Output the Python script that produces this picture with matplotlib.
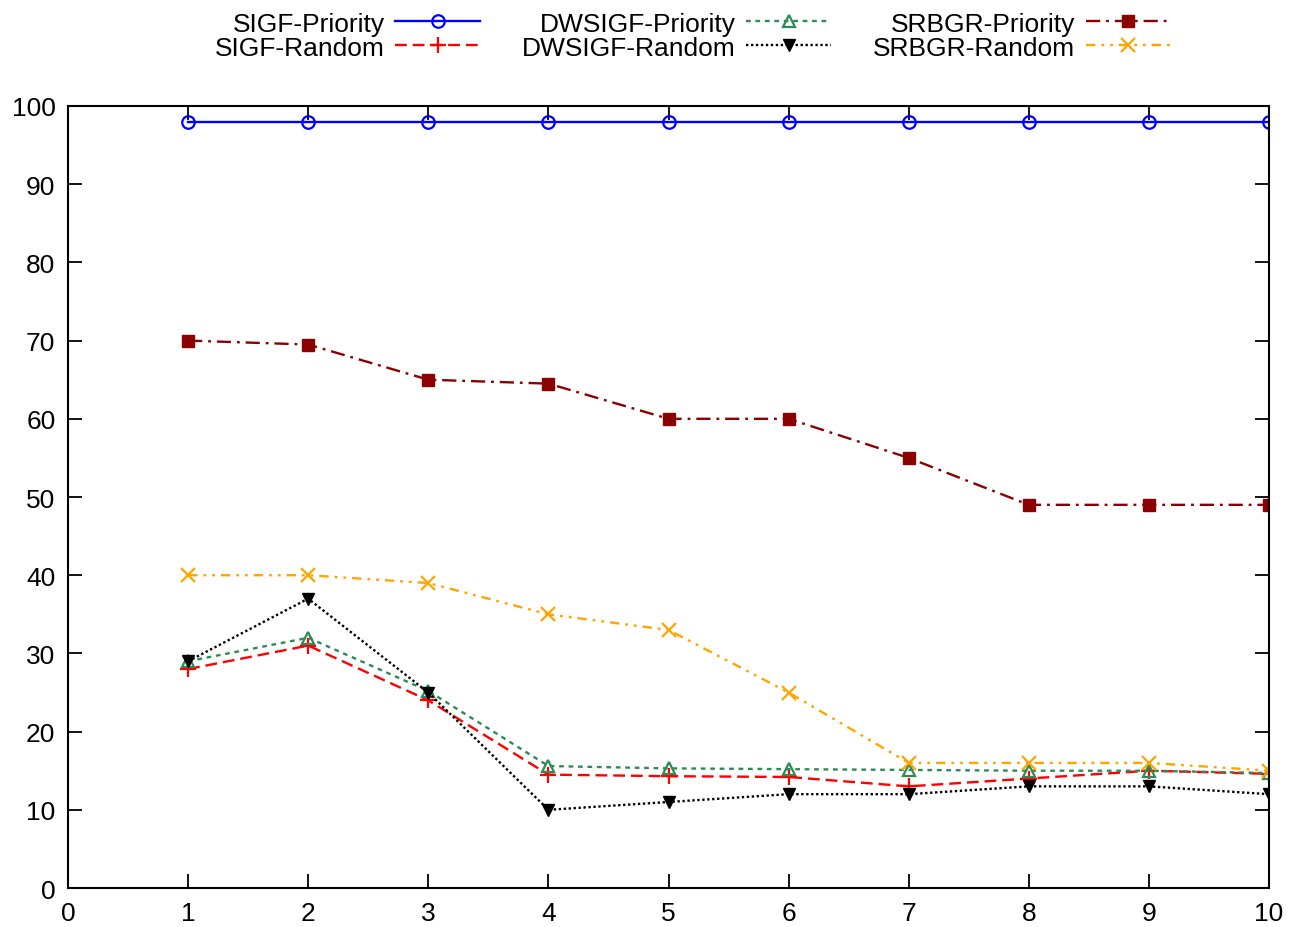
import matplotlib.pyplot as plt

plt.rcParams['font.family'] = ['Liberation Sans', 'DejaVu Sans']

x = [1, 2, 3, 4, 5, 6, 7, 8, 9, 10]
sigf_priority = [98, 98, 98, 98, 98, 98, 98, 98, 98, 98]
sigf_random = [28, 31, 24, 14.5, 14.3, 14.2, 13, 14, 15, 14.6]
dwsigf_priority = [29, 32, 25.2, 15.6, 15.3, 15.2, 15.1, 15, 15, 14.7]
dwsigf_random = [29, 37, 25, 10, 11, 12, 12, 13, 13, 12]
srbgr_priority = [70, 69.5, 65, 64.5, 60, 60, 55, 49, 49, 49]
srbgr_random = [40, 40, 39, 35, 33, 25, 16, 16, 16, 15]

fig = plt.figure(figsize=(13.02, 9.28), dpi=100)
ax = fig.add_axes([0.0522, 0.042, 0.9225, 0.8427])

lw = 1.7
ax.plot(x, sigf_priority, color='#0000ff', ls='-', lw=lw, marker='o', ms=9,
        mfc='none', mew=1.6, label='SIGF-Priority')
ax.plot(x, sigf_random, color='#ff0000', ls=(0, (5, 2.5)), lw=lw, marker='+', ms=11,
        mew=1.6, label='SIGF-Random')
ax.plot(x, dwsigf_priority, color='#2e8b57', ls=(0, (2, 2)), lw=lw, marker='^', ms=9,
        mfc='none', mew=1.6, label='DWSIGF-Priority')
ax.plot(x, dwsigf_random, color='black', ls=(0, (1, 1.1)), lw=lw, marker='v', ms=8,
        label='DWSIGF-Random')
ax.plot(x, srbgr_priority, color='#8b0000', ls=(0, (6, 2.5, 1.2, 2.5)), lw=lw, marker='s', ms=8,
        label='SRBGR-Priority')
ax.plot(x, srbgr_random, color='#ffa500', ls=(0, (4, 2.5, 1.2, 2.5, 1.2, 2.5)), lw=lw,
        marker='x', ms=10, mew=1.6, label='SRBGR-Random')

ax.set_xlim(0, 10)
ax.set_ylim(0, 100)
ax.set_xticks(range(0, 11))
ax.set_yticks(range(0, 101, 10))
ax.tick_params(direction='in', length=10, width=1.3, labelsize=19,
               top=True, right=True, pad=9)
for s in ax.spines.values():
    s.set_linewidth(1.5)

fig.legend(loc='upper center', bbox_to_anchor=(0.532, 1.012), ncol=3, frameon=False,
           markerfirst=False, fontsize=19, handlelength=3.2, columnspacing=1.6,
           labelspacing=0.0, handletextpad=0.4)

fig.savefig('out.png', dpi=100)
